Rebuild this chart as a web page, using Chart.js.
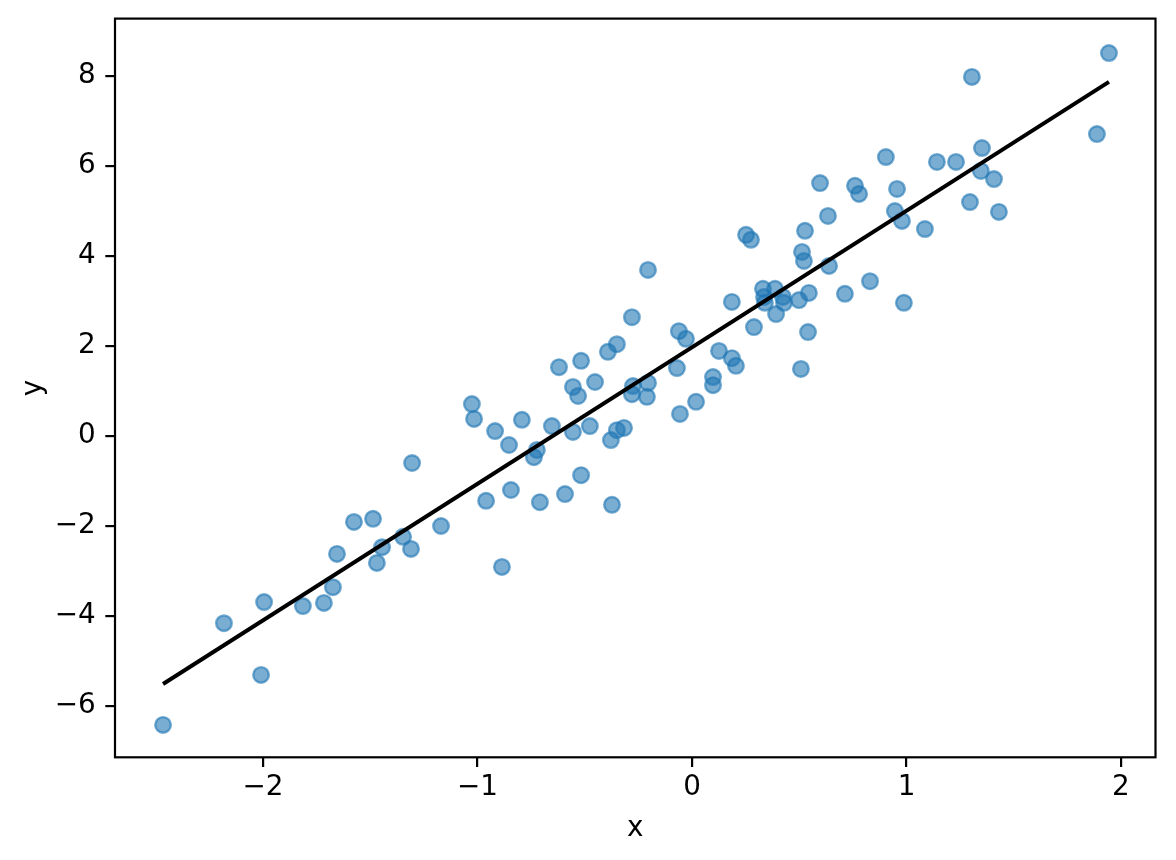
<!DOCTYPE html>
<html>
<head>
<meta charset="utf-8">
<script src="https://cdn.jsdelivr.net/npm/chart.js@4.4.1/dist/chart.umd.min.js"></script>
<style>
  html, body { margin: 0; padding: 0; background: #fff; }
  canvas { display: block; }
</style>
</head>
<body>
<canvas id="myChart" width="1176" height="860"></canvas>
<script>
// Scatter points
const xValues = [
  -2.466, -2.182, -2.009, -1.995, -1.814, -1.716, -1.674, -1.655, -1.576, -1.487,
  -1.445, -1.469, -1.347, -1.310, -1.305, -1.170, -1.026, -1.016, -0.960, -0.918,
  -0.886, -0.853, -0.844, -0.793, -0.737, -0.723, -0.709, -0.653, -0.620, -0.592,
  -0.555, -0.555, -0.531, -0.517, -0.517, -0.476, -0.452, -0.392, -0.378, -0.373,
  -0.350, -0.350, -0.317, -0.280, -0.275, -0.280, -0.205, -0.210, -0.205, -0.070,
  -0.061, -0.056, -0.028, 0.019, 0.098, 0.098, 0.126, 0.186, 0.186, 0.205,
  0.252, 0.275, 0.289, 0.331, 0.336, 0.340, 0.387, 0.392, 0.424, 0.429,
  0.597, 0.499, 0.508, 0.513, 0.522, 0.527, 0.541, 0.545, 0.639, 0.634,
  0.713, 0.760, 0.779, 0.830, 0.904, 0.946, 0.956, 0.979, 0.988, 1.086,
  1.142, 1.231, 1.296, 1.305, 1.347, 1.352, 1.408, 1.431, 1.888, 1.944
];
const yValues = [
  -6.42, -4.16, -5.31, -3.69, -3.78, -3.71, -3.36, -2.62, -1.91, -1.84,
  -2.47, -2.82, -2.24, -2.51, -0.60, -2.00, 0.71, 0.38, -1.44, 0.11,
  -2.91, -0.20, -1.20, 0.36, -0.47, -0.31, -1.47, 0.22, 1.53, -1.29,
  1.09, 0.09, 0.89, 1.67, -0.87, 0.22, 1.20, 1.87, -0.09, -1.53,
  2.04, 0.13, 0.18, 2.64, 1.11, 0.93, 1.18, 0.87, 3.69, 1.51,
  2.33, 0.49, 2.16, 0.76, 1.31, 1.13, 1.89, 2.98, 1.73, 1.56,
  4.47, 4.36, 2.42, 3.27, 3.09, 2.96, 3.27, 2.71, 3.09, 2.96,
  5.62, 3.02, 1.49, 4.09, 3.89, 4.56, 2.31, 3.18, 3.78, 4.89,
  3.16, 5.56, 5.38, 3.44, 6.20, 5.00, 5.49, 4.78, 2.96, 4.60,
  6.09, 6.09, 5.20, 7.98, 5.89, 6.40, 5.71, 4.98, 6.71, 8.51
];

// Fitted line end points
const lineX = [-2.466, 1.944];
const lineY = [-5.51, 7.87];

// Tick values
const xTicks = [-2, -1, 0, 1, 2];
const yTicks = [-6, -4, -2, 0, 2, 4, 6, 8];

const fontFamily = '"DejaVu Sans", sans-serif';
const fontSize = 27.8;

// Draws the black frame round the plot area (matplotlib spines)
const framePlugin = {
    id: 'frame',
    afterDatasetsDraw(chart) {
        const { ctx, chartArea } = chart;
        ctx.save();
        ctx.strokeStyle = '#000';
        ctx.lineWidth = 2.2;
        ctx.strokeRect(chartArea.left, chartArea.top,
            chartArea.right - chartArea.left, chartArea.bottom - chartArea.top);
        ctx.restore();
    }
};

const minusSign = value => String(value).replace('-', '\u2212');

// fixed axis box sizes, no extra label padding
const fitX = scale => {
    scale.height = 102.7;
    scale.paddingLeft = 0;
    scale.paddingRight = 0;
};
const fitY = scale => {
    scale.width = 115;
    scale.paddingTop = 0;
    scale.paddingBottom = 0;
};

const ctx = document.getElementById('myChart').getContext('2d');

new Chart(ctx, {
    type: 'scatter',
    data: {
        datasets: [
            {
                type: 'line',
                data: lineX.map((x, i) => ({ x: x, y: lineY[i] })),
                borderColor: '#000',
                borderWidth: 4,
                pointRadius: 0,
                fill: false,
                order: 0
            },
            {
                data: xValues.map((x, i) => ({ x: x, y: yValues[i] })),
                backgroundColor: 'rgba(31, 119, 180, 0.6)',
                borderColor: 'rgba(31, 119, 180, 0.6)',
                borderWidth: 2.4,
                pointRadius: 7.8,
                pointHoverRadius: 7.8,
                order: 1
            }
        ]
    },
    options: {
        responsive: false,
        animation: false,
        devicePixelRatio: 1,
        layout: {
            padding: { top: 18.6, right: 20.5, bottom: 0, left: 0 }
        },
        plugins: {
            legend: { display: false },
            tooltip: { enabled: false }
        },
        scales: {
            x: {
                type: 'linear',
                min: -2.690,
                max: 2.161,
                afterFit: fitX,
                afterBuildTicks: scale => { scale.ticks = xTicks.map(v => ({ value: v })); },
                border: { display: false },
                grid: {
                    drawOnChartArea: false,
                    drawTicks: true,
                    tickLength: 9.7,
                    lineWidth: 2.2,
                    color: '#000'
                },
                ticks: {
                    color: '#000',
                    padding: 4.3,
                    maxRotation: 0,
                    font: { family: fontFamily, size: fontSize },
                    callback: minusSign
                },
                title: {
                    display: true,
                    text: 'x',
                    color: '#000',
                    padding: { top: 0, bottom: 14.5 },
                    font: { family: fontFamily, size: fontSize }
                }
            },
            y: {
                type: 'linear',
                min: -7.14,
                max: 9.276,
                afterFit: fitY,
                afterBuildTicks: scale => { scale.ticks = yTicks.map(v => ({ value: v })); },
                border: { display: false },
                grid: {
                    drawOnChartArea: false,
                    drawTicks: true,
                    tickLength: 9.7,
                    lineWidth: 2.2,
                    color: '#000'
                },
                ticks: {
                    color: '#000',
                    padding: 9.5,
                    font: { family: fontFamily, size: fontSize },
                    callback: minusSign
                },
                title: {
                    display: true,
                    text: 'y',
                    color: '#000',
                    padding: { top: 17.5, bottom: 0 },
                    font: { family: fontFamily, size: fontSize }
                }
            }
        }
    },
    plugins: [framePlugin]
});
</script>
</body>
</html>
